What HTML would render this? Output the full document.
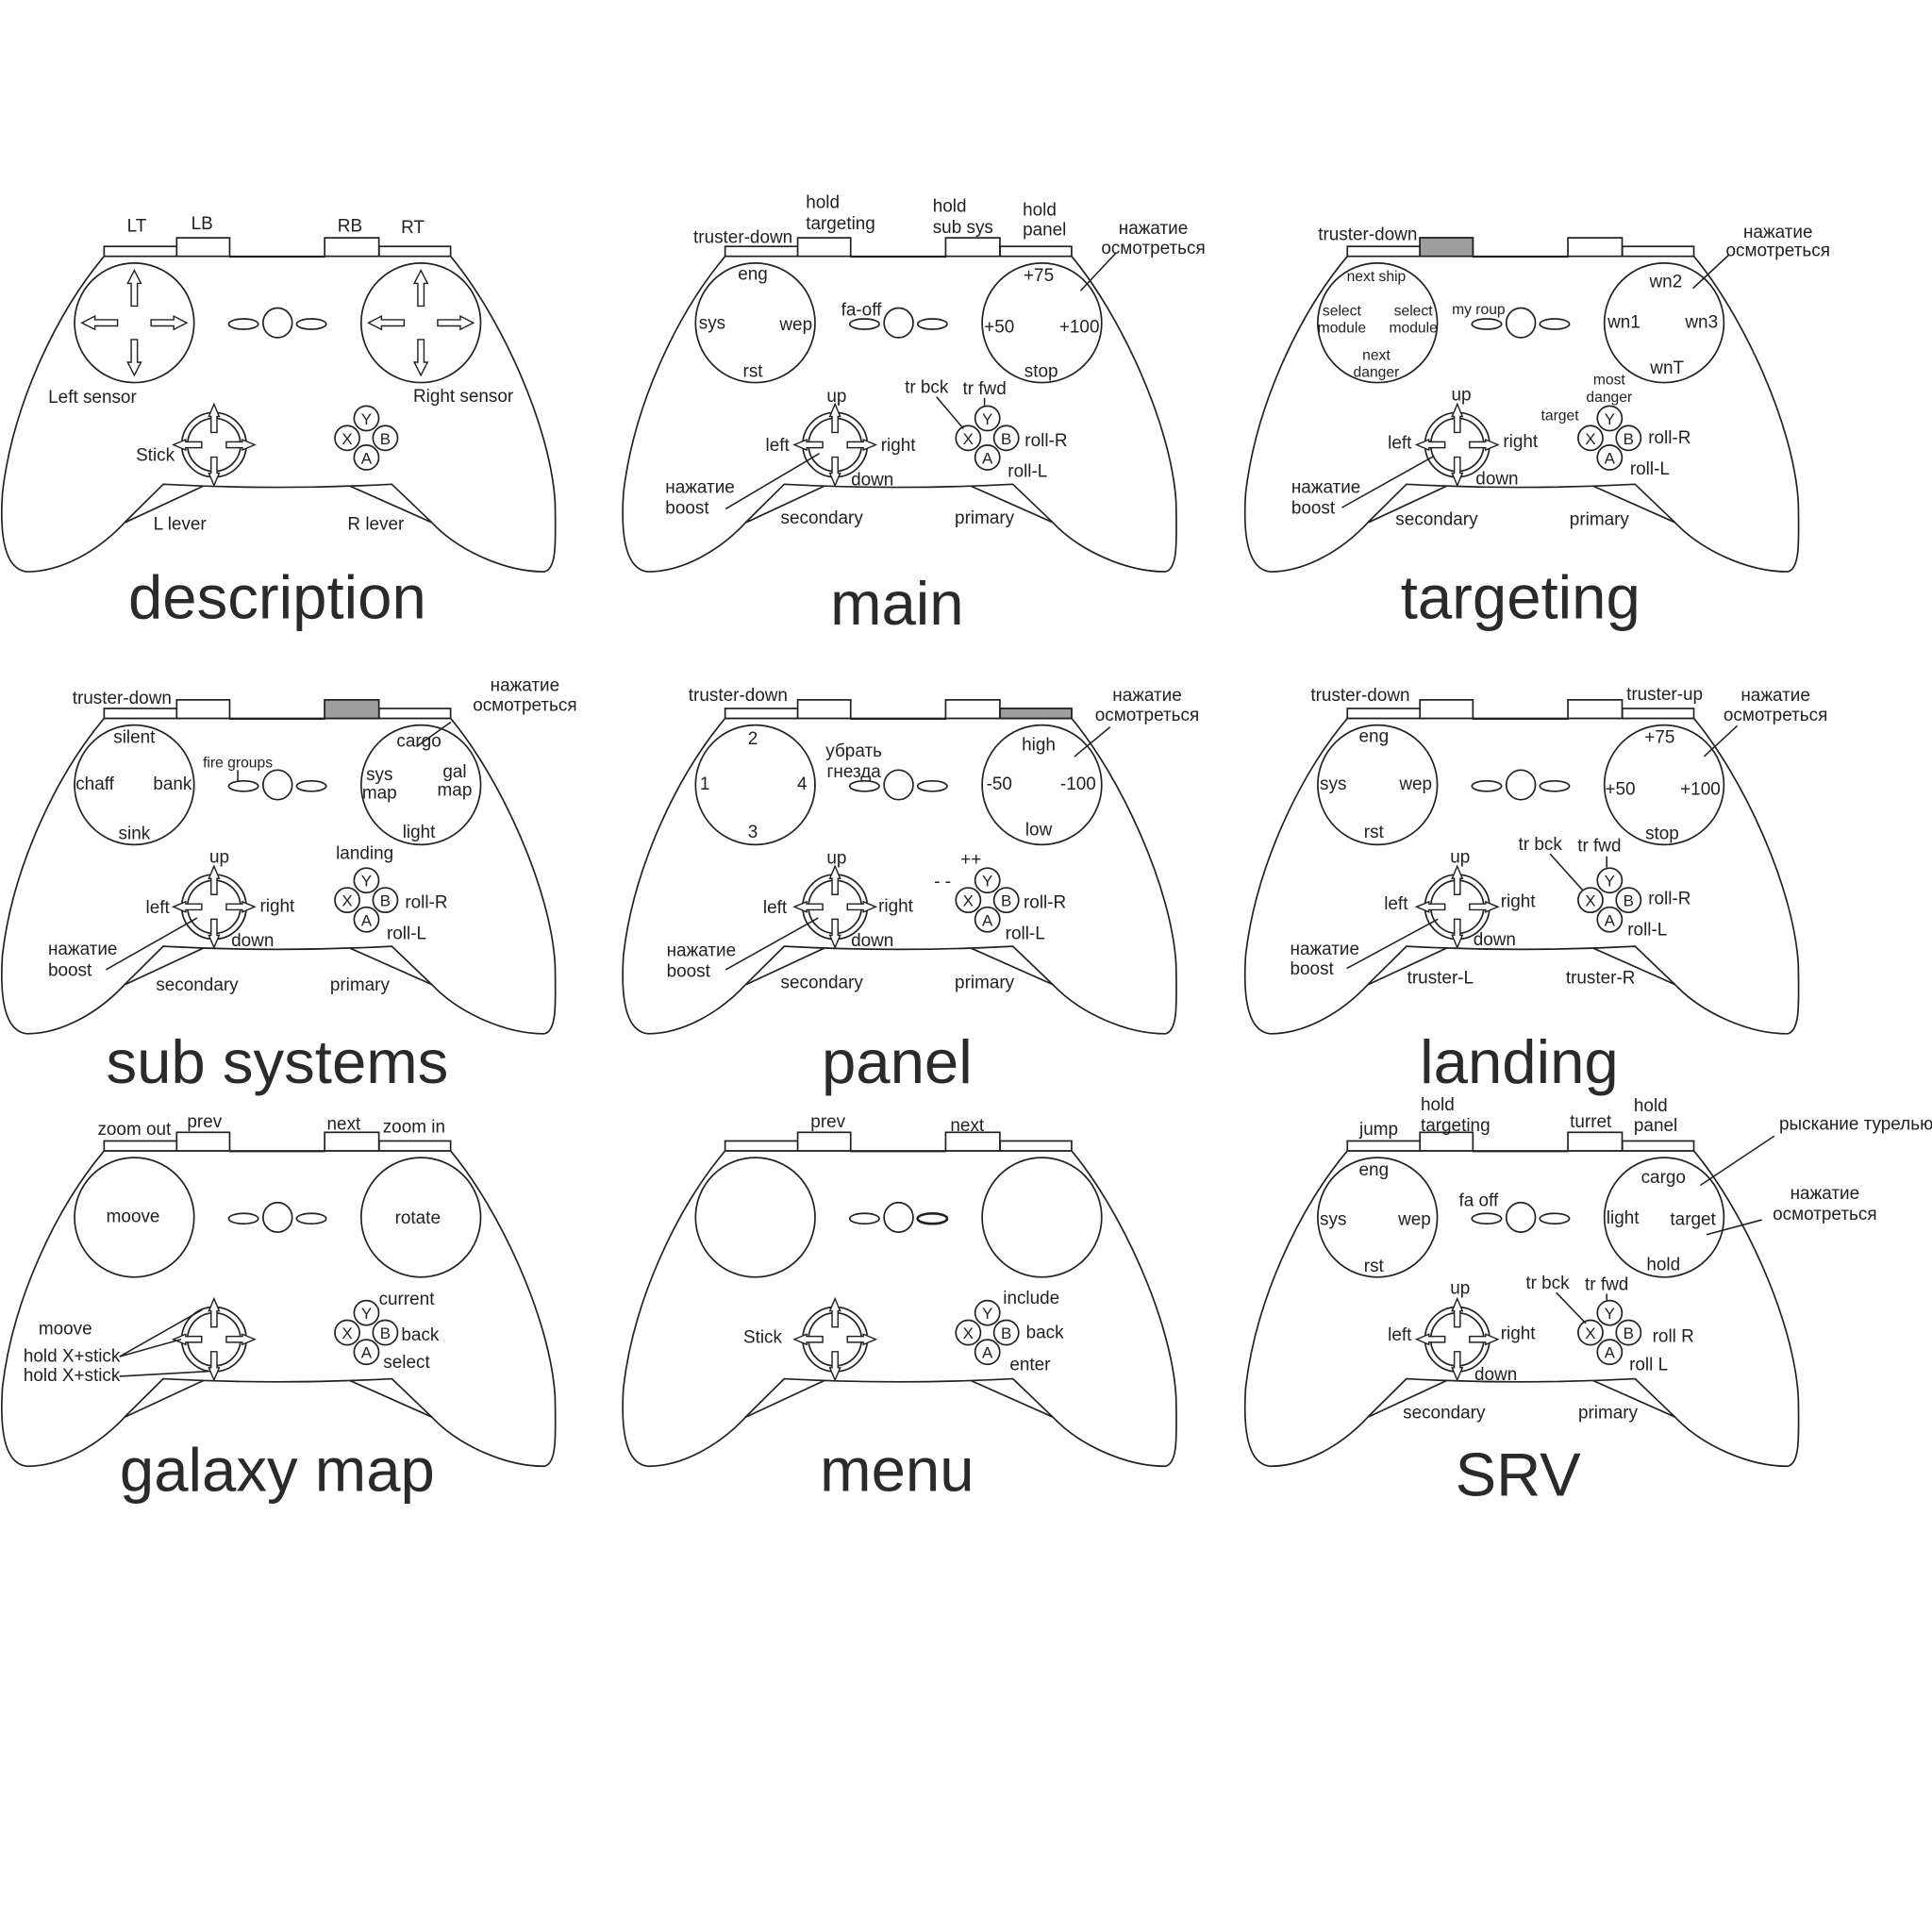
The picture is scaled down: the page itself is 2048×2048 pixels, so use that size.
<!DOCTYPE html>
<html><head><meta charset="utf-8"><style>
html,body{margin:0;padding:0;background:#fff;}
svg{display:block;}
text{font-family:"Liberation Sans",sans-serif;fill:#222;}
.l{font-size:14.5px;text-anchor:middle;}
.s{font-size:12px;text-anchor:middle;}
.st{font-size:14.5px;text-anchor:start;}
.t{font-size:50px;text-anchor:middle;fill:#2a2a2a;}
.ln{stroke:#222;stroke-width:1.2;fill:none;}
</style></head><body>
<svg width="2048" height="2048" viewBox="0 0 1568 1568" xmlns="http://www.w3.org/2000/svg">
<defs>
<g id="sar"><polygon points="-2.5,-13.6 -2.5,-32 -5.4,-32 0,-42.6 5.4,-32 2.5,-32 2.5,-13.6" fill="#fff" stroke="#222" stroke-width="1.1"/></g>
<g id="kar"><polygon points="-2.4,-10 -2.4,-23 -4.2,-23 0,-33 4.2,-23 2.4,-23 2.4,-10" fill="#fff" stroke="#222" stroke-width="1.1"/></g>
<g id="pad" stroke="#222" stroke-width="1.3" fill="#fff">
<path d="M84.5,208 C45,255 10,330 2,400 C0,430 2,462 22,464 C50,464 80,447 101.6,423.6 L132.5,393 Q225,398 318,393 L350.4,424 C372,447 410,464 441.7,464 C452,462 451,440 450.5,408 C447,345 405,255 365.7,208 Z"/>
<line x1="101.6" y1="424" x2="165" y2="394.5" fill="none"/>
<line x1="284" y1="394.5" x2="350.4" y2="424" fill="none"/>
<rect x="84.5" y="200" width="59" height="8"/>
<rect x="143.4" y="193" width="43" height="15"/>
<rect x="263.5" y="193" width="44" height="15"/>
<rect x="307.7" y="200" width="58" height="8"/>
<line x1="186" y1="208.5" x2="264" y2="208.5"/>
<circle cx="109" cy="262" r="48.5"/>
<circle cx="341.6" cy="262" r="48.5"/>
<ellipse cx="197.6" cy="263" rx="12" ry="4.2"/>
<ellipse cx="225.3" cy="262" rx="11.8" ry="12"/>
<ellipse cx="252.7" cy="263" rx="12" ry="4.2"/>
<circle cx="173.7" cy="361" r="26.2"/>
<circle cx="173.7" cy="361" r="21.5"/>
<g transform="translate(173.7,361)"><use href="#kar"/><use href="#kar" transform="rotate(90)"/><use href="#kar" transform="rotate(180)"/><use href="#kar" transform="rotate(270)"/></g>
<circle cx="297.4" cy="339.5" r="10"/>
<circle cx="281.8" cy="355.5" r="10"/>
<circle cx="312.7" cy="355.5" r="10"/>
<circle cx="297.4" cy="371.3" r="10"/>
</g>
<g id="abxy" font-size="13" text-anchor="middle">
<text x="297.4" y="344.5" style="font-size:13px;text-anchor:middle">Y</text>
<text x="281.8" y="360.5" style="font-size:13px;text-anchor:middle">X</text>
<text x="312.7" y="360.5" style="font-size:13px;text-anchor:middle">B</text>
<text x="297.4" y="376.3" style="font-size:13px;text-anchor:middle">A</text>
</g>
</defs>

<!-- ROW 1 -->
<g transform="translate(0,0)">
<use href="#pad"/><use href="#abxy"/>
<g transform="translate(109,262)"><use href="#sar"/><use href="#sar" transform="rotate(90)"/><use href="#sar" transform="rotate(180)"/><use href="#sar" transform="rotate(270)"/></g>
<g transform="translate(341.6,262)"><use href="#sar"/><use href="#sar" transform="rotate(90)"/><use href="#sar" transform="rotate(180)"/><use href="#sar" transform="rotate(270)"/></g>
<text class="l" x="111" y="188">LT</text><text class="l" x="164" y="186">LB</text>
<text class="l" x="284" y="188">RB</text><text class="l" x="335" y="189">RT</text>
<text class="l" x="75" y="327">Left sensor</text><text class="l" x="376" y="326">Right sensor</text>
<text class="l" x="126" y="374">Stick</text>
<text class="l" x="146" y="430">L lever</text><text class="l" x="305" y="430">R lever</text>
<text class="t" x="225" y="502">description</text>
</g>

<g transform="translate(504,0)">
<use href="#pad"/><use href="#abxy"/>
<text class="l" x="99" y="197">truster-down</text>
<text class="st" x="150" y="169">hold</text><text class="st" x="150" y="186">targeting</text>
<text class="st" x="253" y="172">hold</text><text class="st" x="253" y="189">sub sys</text>
<text class="st" x="326" y="175">hold</text><text class="st" x="326" y="191">panel</text>
<text class="l" x="432" y="190">нажатие</text><text class="l" x="432" y="206">осмотреться</text>
<line class="ln" x1="373" y1="236" x2="402" y2="205"/>
<text class="l" x="107" y="227">eng</text><text class="l" x="74" y="267">sys</text><text class="l" x="142" y="268">wep</text><text class="l" x="107" y="306">rst</text>
<text class="l" x="195" y="256">fa-off</text>
<text class="l" x="339" y="228">+75</text><text class="l" x="307" y="270">+50</text><text class="l" x="372" y="270">+100</text><text class="l" x="341" y="306">stop</text>
<text class="l" x="175" y="326">up</text><text class="l" x="127" y="366">left</text><text class="l" x="225" y="366">right</text><text class="l" x="204" y="394">down</text>
<text class="st" x="36" y="400">нажатие</text><text class="st" x="36" y="417">boost</text>
<line class="ln" x1="85" y1="413" x2="161" y2="368"/>
<text class="l" x="248" y="319">tr bck</text><text class="l" x="295" y="320">tr fwd</text>
<line class="ln" x1="256" y1="322" x2="278" y2="348"/><line class="ln" x1="295" y1="323" x2="295" y2="329"/>
<text class="l" x="345" y="362">roll-R</text><text class="l" x="330" y="387">roll-L</text>
<text class="l" x="163" y="425">secondary</text><text class="l" x="295" y="425">primary</text>
<text class="t" x="224" y="507">main</text>
</g>

<g transform="translate(1009,0)">
<use href="#pad"/><use href="#abxy"/>
<rect x="143.4" y="193" width="43" height="15" fill="#9e9e9e" stroke="#222" stroke-width="1.3"/>
<text class="l" x="101" y="195">truster-down</text>
<text class="l" x="434" y="193">нажатие</text><text class="l" x="434" y="208">осмотреться</text>
<line class="ln" x1="365" y1="234" x2="394" y2="207"/>
<text class="s" x="108" y="228">next ship</text>
<text class="s" x="80" y="256">select</text><text class="s" x="80" y="270">module</text>
<text class="s" x="138" y="256">select</text><text class="s" x="138" y="270">module</text>
<text class="s" x="108" y="292">next</text><text class="s" x="108" y="306">danger</text>
<text class="s" x="191" y="255">my roup</text>
<text class="l" x="343" y="233">wn2</text><text class="l" x="309" y="266">wn1</text><text class="l" x="372" y="266">wn3</text><text class="l" x="344" y="303">wnT</text>
<text class="s" x="297" y="312">most</text><text class="s" x="297" y="326">danger</text>
<text class="s" x="257" y="341">target</text>
<text class="l" x="177" y="325">up</text><text class="l" x="127" y="364">left</text><text class="l" x="225" y="363">right</text><text class="l" x="206" y="393">down</text>
<text class="st" x="39" y="400">нажатие</text><text class="st" x="39" y="417">boost</text>
<line class="ln" x1="80" y1="412" x2="155" y2="370"/>
<text class="l" x="346" y="360">roll-R</text><text class="l" x="330" y="385">roll-L</text>
<text class="l" x="157" y="426">secondary</text><text class="l" x="289" y="426">primary</text>
<text class="t" x="225" y="502">targeting</text>
</g>

<!-- ROW 2 -->
<g transform="translate(0,375)">
<use href="#pad"/><use href="#abxy"/>
<rect x="263.5" y="193" width="44" height="15" fill="#9e9e9e" stroke="#222" stroke-width="1.3"/>
<text class="l" x="99" y="196">truster-down</text>
<text class="l" x="426" y="186">нажатие</text><text class="l" x="426" y="202">осмотреться</text>
<line class="ln" x1="338" y1="231" x2="366" y2="211"/>
<text class="l" x="109" y="228">silent</text><text class="l" x="77" y="266">chaff</text><text class="l" x="140" y="266">bank</text><text class="l" x="109" y="306">sink</text>
<text class="s" x="193" y="248">fire groups</text><line class="ln" x1="193" y1="250" x2="193" y2="259"/>
<text class="l" x="340" y="231">cargo</text>
<text class="l" x="308" y="258">sys</text><text class="l" x="308" y="273">map</text>
<text class="l" x="369" y="256">gal</text><text class="l" x="369" y="271">map</text>
<text class="l" x="340" y="305">light</text>
<text class="l" x="296" y="322">landing</text>
<text class="l" x="178" y="325">up</text><text class="l" x="128" y="366">left</text><text class="l" x="225" y="365">right</text><text class="l" x="205" y="393">down</text>
<text class="st" x="39" y="400">нажатие</text><text class="st" x="39" y="417">boost</text>
<line class="ln" x1="86" y1="412" x2="160" y2="370"/>
<text class="l" x="346" y="362">roll-R</text><text class="l" x="330" y="387">roll-L</text>
<text class="l" x="160" y="429">secondary</text><text class="l" x="292" y="429">primary</text>
<text class="t" x="225" y="504">sub systems</text>
</g>

<g transform="translate(504,375)">
<use href="#pad"/><use href="#abxy"/>
<rect x="307.7" y="200" width="58" height="8" fill="#9e9e9e" stroke="#222" stroke-width="1.3"/>
<text class="l" x="95" y="194">truster-down</text>
<text class="l" x="427" y="194">нажатие</text><text class="l" x="427" y="210">осмотреться</text>
<line class="ln" x1="368" y1="239" x2="397" y2="215"/>
<text class="l" x="107" y="229">2</text><text class="l" x="68" y="266">1</text><text class="l" x="147" y="266">4</text><text class="l" x="107" y="305">3</text>
<text class="l" x="189" y="239">убрать</text><text class="l" x="189" y="256">гнезда</text>
<text class="l" x="339" y="234">high</text><text class="l" x="307" y="266">-50</text><text class="l" x="371" y="266">-100</text><text class="l" x="339" y="303">low</text>
<text class="l" x="175" y="326">up</text><text class="l" x="125" y="366">left</text><text class="l" x="223" y="365">right</text><text class="l" x="204" y="393">down</text>
<text class="st" x="37" y="401">нажатие</text><text class="st" x="37" y="418">boost</text>
<line class="ln" x1="85" y1="412" x2="160" y2="370"/>
<text class="l" x="284" y="327">++</text><text class="l" x="261" y="345">- -</text>
<text class="l" x="344" y="362">roll-R</text><text class="l" x="328" y="387">roll-L</text>
<text class="l" x="163" y="427">secondary</text><text class="l" x="295" y="427">primary</text>
<text class="t" x="224" y="504">panel</text>
</g>

<g transform="translate(1009,375)">
<use href="#pad"/><use href="#abxy"/>
<text class="l" x="95" y="194">truster-down</text><text class="l" x="342" y="193">truster-up</text>
<text class="l" x="432" y="194">нажатие</text><text class="l" x="432" y="210">осмотреться</text>
<line class="ln" x1="374" y1="239" x2="401" y2="214"/>
<text class="l" x="106" y="227">eng</text><text class="l" x="73" y="266">sys</text><text class="l" x="140" y="266">wep</text><text class="l" x="106" y="305">rst</text>
<text class="l" x="338" y="228">+75</text><text class="l" x="306" y="270">+50</text><text class="l" x="371" y="270">+100</text><text class="l" x="340" y="306">stop</text>
<text class="l" x="241" y="315">tr bck</text><text class="l" x="289" y="316">tr fwd</text>
<line class="ln" x1="249" y1="318" x2="276" y2="348"/><line class="ln" x1="295" y1="320" x2="295" y2="329"/>
<text class="l" x="176" y="325">up</text><text class="l" x="124" y="363">left</text><text class="l" x="223" y="361">right</text><text class="l" x="204" y="392">down</text>
<text class="st" x="38" y="400">нажатие</text><text class="st" x="38" y="416">boost</text>
<line class="ln" x1="84" y1="411" x2="158" y2="371"/>
<text class="l" x="346" y="359">roll-R</text><text class="l" x="328" y="384">roll-L</text>
<text class="l" x="160" y="423">truster-L</text><text class="l" x="290" y="423">truster-R</text>
<text class="t" x="224" y="504">landing</text>
</g>

<!-- ROW 3 -->
<g transform="translate(0,726)">
<use href="#pad"/><use href="#abxy"/>
<text class="l" x="109" y="195">zoom out</text><text class="l" x="166" y="189">prev</text>
<text class="l" x="279" y="191">next</text><text class="l" x="336" y="193">zoom in</text>
<text class="l" x="108" y="266">moove</text><text class="l" x="339" y="267">rotate</text>
<text class="l" x="330" y="333">current</text><text class="l" x="341" y="362">back</text><text class="l" x="330" y="384">select</text>
<text class="l" x="53" y="357">moove</text>
<text class="st" x="19" y="379">hold X+stick</text><text class="st" x="19" y="395">hold X+stick</text>
<line class="ln" x1="97" y1="375" x2="164" y2="337"/><line class="ln" x1="97" y1="375" x2="147" y2="361"/>
<line class="ln" x1="97" y1="391" x2="169" y2="387"/>
<text class="t" x="225" y="484">galaxy map</text>
</g>

<g transform="translate(504,726)">
<use href="#pad"/><use href="#abxy"/>
<ellipse cx="252.7" cy="263" rx="12" ry="4.2" fill="none" stroke="#222" stroke-width="2"/>
<text class="l" x="168" y="189">prev</text><text class="l" x="281" y="192">next</text>
<text class="l" x="115" y="364">Stick</text>
<text class="l" x="333" y="332">include</text><text class="l" x="344" y="360">back</text><text class="l" x="332" y="386">enter</text>
<text class="t" x="224" y="484">menu</text>
</g>

<g transform="translate(1009,726)">
<use href="#pad"/><use href="#abxy"/>
<text class="l" x="110" y="195">jump</text>
<text class="st" x="144" y="175">hold</text><text class="st" x="144" y="192">targeting</text>
<text class="l" x="282" y="189">turret</text>
<text class="st" x="317" y="176">hold</text><text class="st" x="317" y="192">panel</text>
<text class="st" x="435" y="191">рыскание турелью</text>
<line class="ln" x1="371" y1="236" x2="431" y2="196"/>
<text class="l" x="472" y="247">нажатие</text><text class="l" x="472" y="264">осмотреться</text>
<line class="ln" x1="376" y1="276" x2="421" y2="264"/>
<text class="l" x="106" y="228">eng</text><text class="l" x="73" y="268">sys</text><text class="l" x="139" y="268">wep</text><text class="l" x="106" y="306">rst</text>
<text class="l" x="191" y="253">fa off</text>
<text class="l" x="341" y="234">cargo</text><text class="l" x="308" y="267">light</text><text class="l" x="365" y="268">target</text><text class="l" x="341" y="305">hold</text>
<text class="l" x="247" y="320">tr bck</text><text class="l" x="295" y="321">tr fwd</text>
<line class="ln" x1="254" y1="323" x2="278" y2="348"/><line class="ln" x1="295" y1="324" x2="295" y2="329"/>
<text class="l" x="176" y="324">up</text><text class="l" x="127" y="362">left</text><text class="l" x="223" y="361">right</text><text class="l" x="205" y="394">down</text>
<text class="l" x="349" y="363">roll R</text><text class="l" x="329" y="386">roll L</text>
<text class="l" x="163" y="425">secondary</text><text class="l" x="296" y="425">primary</text>
<text class="t" x="223" y="488">SRV</text>
</g>
</svg>
</body></html>
